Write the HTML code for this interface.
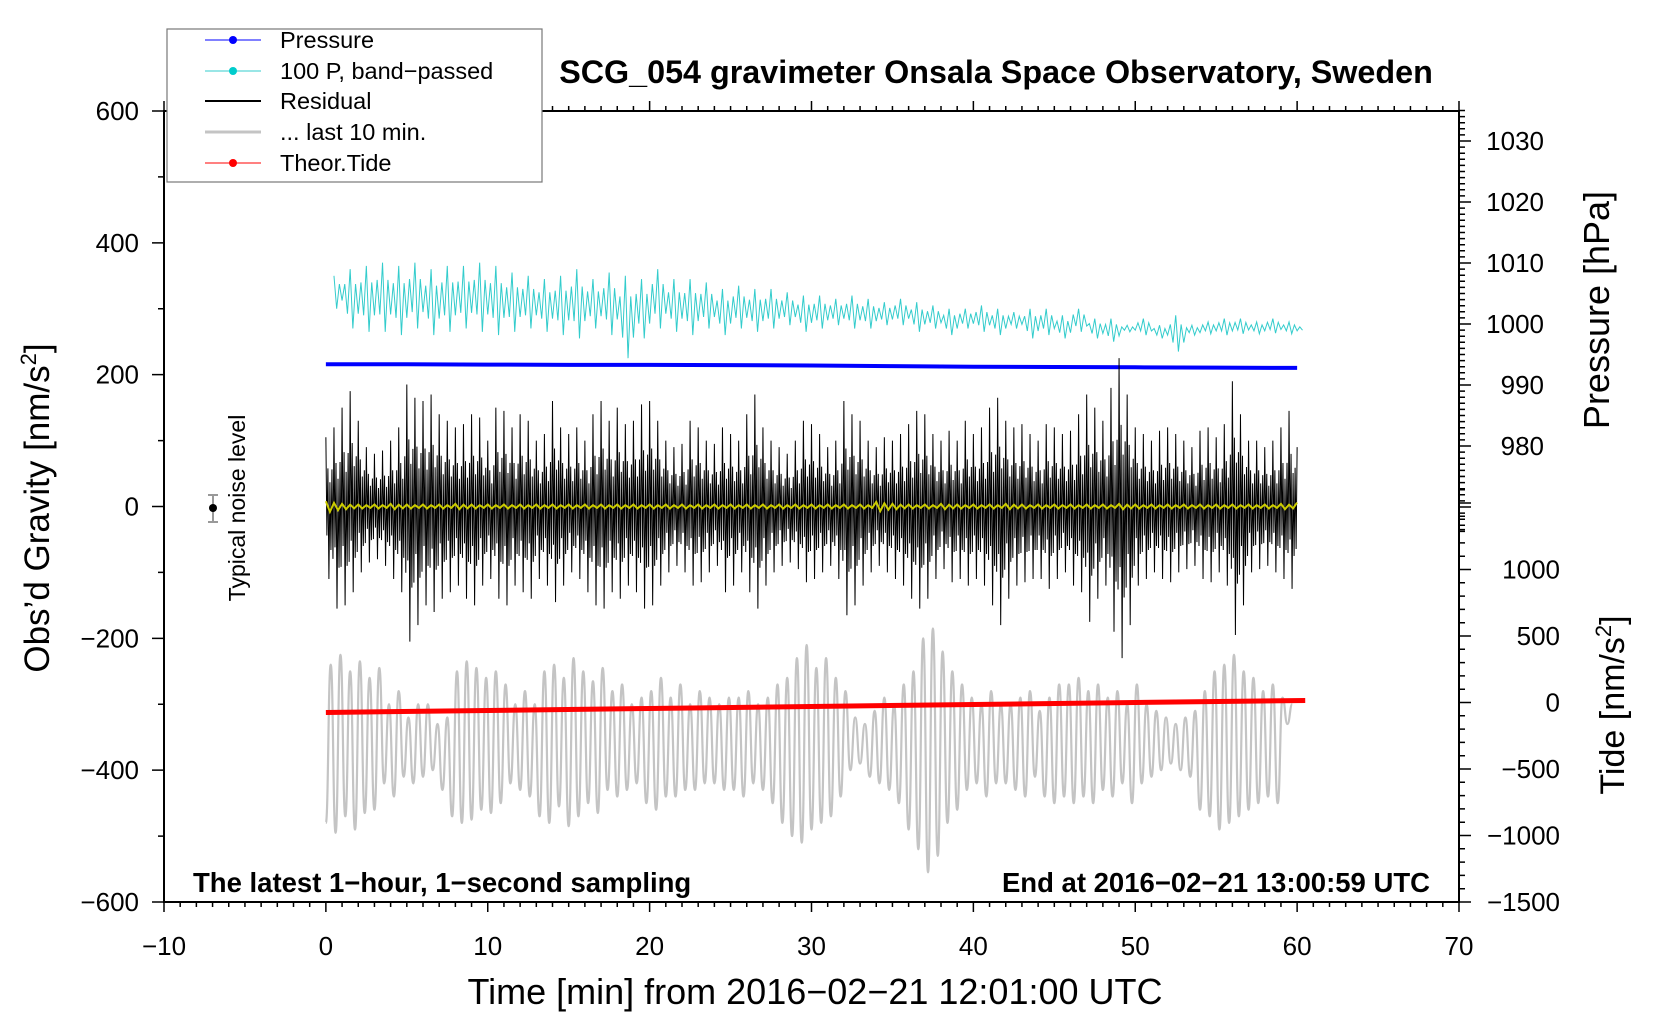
<!DOCTYPE html>
<html><head><meta charset="utf-8"><style>
html,body{margin:0;padding:0;background:#fff;}
svg{display:block;font-family:"Liberation Sans",Arial,sans-serif;}
</style></head><body>
<svg id="chart" width="1660" height="1020" viewBox="0 0 1660 1020" xmlns="http://www.w3.org/2000/svg">
<rect width="1660" height="1020" fill="#fff"/>
<g id="axes"></g>
<g id="series"></g>
<g id="labels"></g>
</svg>
<script>
// ---------- data ----------
const xTicks = [-10,0,10,20,30,40,50,60,70];
const gTicks = [-600,-400,-200,0,200,400,600];
const pTicks = [980,990,1000,1010,1020,1030];
const tideTicks = [-1500,-1000,-500,0,500,1000];

const pressureTimes = [0,5,10,15,20,25,30,35,40,45,50,55,60];
const pressureVals = [993.4,993.4,993.35,993.3,993.3,993.25,993.2,993.1,993.0,992.95,992.9,992.85,992.8];

const tideTimes = [0,10,20,30,40,50,60.5];
const tideVals = [-75,-60,-45,-30,-15,0,15];

const cyanMax = [350,360,365,370,365,370,360,365,365,370,365,355,350,345,350,360,345,355,350,345,360,345,345,340,330,335,330,330,325,320,320,315,320,315,310,315,310,305,300,300,305,300,295,300,300,290,300,285,285,275,285,275,290,275,280,285,285,280,285,280,275];
const cyanMin = [300,270,265,265,260,270,260,265,270,265,260,265,270,265,260,255,270,260,225,255,270,265,260,270,260,270,265,270,275,265,270,275,270,270,275,275,265,270,260,270,265,260,270,255,260,255,265,255,250,265,260,255,235,260,262,260,262,262,263,262,265];

const resMax = [105,120,150,175,130,90,80,85,100,120,
185,165,160,170,140,130,120,125,140,135,
100,150,145,120,140,130,100,110,160,120,
110,120,100,140,160,130,150,125,130,155,
160,130,100,90,95,130,120,100,95,120,
110,100,140,170,120,100,90,80,100,130,
125,110,90,100,160,140,130,100,90,105,
100,110,125,145,140,110,100,115,100,130,
110,120,150,165,130,120,125,110,100,125,
120,110,115,140,170,150,130,180,225,170,
120,110,100,115,120,110,100,90,115,120,
105,125,190,140,100,100,90,100,120,145,90];
const resMin = [-110,-155,-150,-130,-100,-85,-80,-90,-110,-130,
-205,-180,-150,-160,-140,-130,-120,-140,-150,-120,
-110,-140,-150,-120,-130,-140,-110,-120,-145,-120,
-100,-110,-130,-150,-155,-130,-140,-120,-130,-155,
-150,-120,-100,-90,-100,-120,-115,-100,-90,-130,
-120,-100,-130,-155,-120,-100,-90,-85,-95,-115,
-110,-100,-90,-110,-165,-150,-120,-100,-90,-100,
-110,-120,-140,-155,-140,-110,-95,-115,-110,-120,
-110,-120,-150,-180,-140,-120,-115,-110,-110,-125,
-110,-100,-120,-130,-175,-140,-120,-190,-230,-180,
-120,-110,-100,-110,-115,-100,-95,-90,-110,-115,
-100,-120,-195,-150,-100,-95,-90,-100,-110,-125,-90];

const yellowAmp = [8,4,3,3,4,3,3,3,4,3,3,3,3,3,3,3,3,3,3,3,3,3,3,3,3,3,3,3,3,3,3,3,3,3,7,4,3,3,4,3,3,3,4,3,3,3,3,3,3,4,3,3,3,3,3,3,3,3,3,4,6];

const greyHi = [-240,-225,-250,-235,-260,-245,-300,-280,-320,-300,
-300,-330,-320,-250,-235,-245,-260,-250,-270,-300,
-280,-300,-250,-240,-260,-230,-250,-265,-245,-280,
-270,-300,-290,-280,-260,-290,-270,-300,-280,-290,
-300,-290,-290,-280,-300,-290,-270,-260,-230,-210,
-245,-230,-260,-280,-320,-330,-310,-290,-300,-270,
-250,-200,-185,-220,-250,-270,-290,-300,-280,-300,
-300,-290,-280,-310,-290,-270,-270,-260,-280,-270,
-290,-280,-300,-270,-300,-310,-320,-330,-320,-310,
-280,-250,-240,-225,-250,-260,-280,-270,-290,-300];
const greyLo = [-480,-495,-470,-490,-465,-460,-420,-440,-410,-420,
-410,-400,-430,-470,-480,-475,-460,-465,-450,-420,
-430,-440,-470,-480,-455,-485,-470,-450,-465,-430,
-440,-430,-420,-450,-460,-440,-440,-430,-430,-420,
-420,-430,-430,-440,-420,-430,-450,-480,-500,-510,
-490,-480,-470,-440,-400,-390,-410,-420,-430,-450,
-490,-520,-555,-530,-480,-460,-430,-420,-440,-420,
-420,-430,-440,-410,-440,-450,-440,-450,-440,-450,
-430,-440,-420,-450,-420,-410,-400,-390,-400,-410,
-460,-470,-490,-480,-470,-460,-450,-440,-450,-330];

// ---------- scales ----------
const L=164, R=1459, T=111, B=902;
const xs = t => L + (t+10)/80*(R-L);
const yg = v => B - (v+600)/1200*(B-T);
const yp = p => 141 + (1030-p)*6.1;
const yt = v => 702.5 - v*0.133;
const NS="http://www.w3.org/2000/svg";
function mk(tag, attrs, parent){const e=document.createElementNS(NS,tag);for(const k in attrs)e.setAttribute(k,attrs[k]);parent.appendChild(e);return e;}
const axes=document.getElementById('axes'), ser=document.getElementById('series'), lab=document.getElementById('labels');

const frame = mk('rect',{x:L,y:T,width:R-L,height:B-T,fill:'none',stroke:'#000','stroke-width':2},axes);



let tp='';
for(let t=-10;t<=70;t++){const x=xs(t);const len=(t%10===0)?10:5;tp+=`M${x} ${B}v${len}M${x} ${T}v${-len}`;}
for(let v=-600;v<=600;v+=100){const y=yg(v);const len=(v%200===0)?12:6;tp+=`M${L} ${y}h${-len}`;}
for(let p=966;p<=1035;p++){const y=yp(p);const len=(p%10===0)?12:6;tp+=`M${R} ${y}h${len}`;}
for(let v=-1500;v<=1700;v+=100){const y=yt(v);const len=(v%500===0)?12:6;tp+=`M${R} ${y}h${len}`;}
const tk=mk('path',{d:tp,stroke:'#000','stroke-width':1.5,fill:'none'},axes);



function txt(s,attrs,name){const e=mk('text',attrs,lab);e.textContent=s;return e;}
xTicks.forEach(t=>{txt(String(t).replace('-','\u2212'),{x:xs(t),y:955,'font-size':26,'text-anchor':'middle'},'x-tick-label');});
gTicks.forEach(v=>{txt(String(v).replace('-','\u2212'),{x:139,y:yg(v)+9,'font-size':26,'text-anchor':'end'},'y-tick-label');});
pTicks.forEach(p=>{txt(String(p),{x:1544,y:yp(p)+9,'font-size':26,'text-anchor':'end'},'pressure-tick-label');});
tideTicks.forEach(v=>{txt(String(v).replace('-','\u2212'),{x:1560,y:yt(v)+9,'font-size':26,'text-anchor':'end'},'tide-tick-label');});

// grey last 10 min
let gp='M'+xs(0)+' '+yg(greyLo[0]);
const n=greyHi.length, cw=60/n;
for(let i=0;i<n;i++){
  const x0=xs(i*cw), xm=xs(i*cw+cw/2), x1=xs((i+1)*cw), h=(xm-x0)/2;
  const lo0=yg(greyLo[i]), hi=yg(greyHi[i]), lo1=yg(i+1<n?greyLo[i+1]:greyLo[i]);
  gp+=`C${x0+h} ${lo0} ${xm-h} ${hi} ${xm} ${hi}`;
  if(i<n-1) gp+=`C${xm+h} ${hi} ${x1-h} ${lo1} ${x1} ${lo1}`;
}
const grey=mk('path',{d:gp,stroke:'#c4c4c4','stroke-width':2.2,fill:'none'},ser);



// cyan
let cp='';
for(let i=0;i<cyanMax.length-1;i++){
  const a=cyanMax[i], b=cyanMin[i], c=cyanMax[i+1], d=cyanMin[i+1];
  const mid=(a+b)/2, m2=(c+d)/2;
  const pts=[[0,a],[1/6,b],[2/6,(a+mid)/2],[3/6,(b+mid)/2],[4/6,(c+m2)/2],[5/6,(d+m2)/2]];
  pts.forEach((p,k)=>{cp+=(i===0&&k===0?'M':'L')+xs(i+p[0]+0.5)+' '+yg(p[1]);});
}
const cyan=mk('path',{d:cp,stroke:'#33cccc','stroke-width':1,fill:'none'},ser);



// blue pressure
const bp=pressureTimes.map((t,i)=>(i?'L':'M')+xs(t)+' '+yp(pressureVals[i])).join('');
const blue=mk('path',{d:bp,stroke:'#0000ff','stroke-width':4,fill:'none'},ser);



// residual
let rp='';
for(let i=0;i<resMax.length-1;i++){
  const t=i*0.5;
  const pts=[[0,resMax[i]],[0.0625,resMin[i]*0.4],[0.125,resMax[i]*0.55],[0.1875,resMin[i]],[0.25,resMax[i]*0.35],[0.3125,resMin[i]*0.6],[0.375,(resMax[i]+resMax[i+1])*0.25],[0.4375,(resMin[i]+resMin[i+1])*0.3]];
  pts.forEach((p,k)=>{rp+=(i===0&&k===0?'M':'L')+xs(t+p[0])+' '+yg(p[1]);});
}
rp+='L'+xs(60)+' '+yg(resMax[resMax.length-1]);
const res=mk('path',{d:rp,stroke:'#000','stroke-width':1,fill:'none'},ser);



// yellow
let yp2='';
for(let i=0;i<yellowAmp.length;i++){
  const a=yellowAmp[i];
  const pts=[[0,a],[0.25,-a],[0.5,a*0.7],[0.75,-a*0.7]];
  pts.forEach((p,k)=>{if(i===yellowAmp.length-1&&k>0)return;yp2+=(i===0&&k===0?'M':'L')+xs(i+p[0])+' '+yg(p[1]);});
}
const yel=mk('path',{d:yp2,stroke:'#cccc00','stroke-width':2,fill:'none'},ser);



// red tide
const tpth=tideTimes.map((t,i)=>(i?'L':'M')+xs(t)+' '+yt(tideVals[i])).join('');
const red=mk('path',{d:tpth,stroke:'#ff0000','stroke-width':5,fill:'none'},ser);


</script>
<svg style="position:absolute;left:0;top:0" width="1660" height="1020" viewBox="0 0 1660 1020" xmlns="http://www.w3.org/2000/svg" font-family="Liberation Sans, Arial, sans-serif">
  <text x="996" y="83" font-size="32.3" font-weight="bold" text-anchor="middle">SCG_054 gravimeter Onsala Space Observatory, Sweden</text>
  <g>
    <path d="M213 495V522M208 495h10M208 522h10" stroke="#999" stroke-width="2" fill="none"/>
    <circle cx="213" cy="508" r="4" fill="#000"/>
  </g>
  <text transform="translate(245,508) rotate(-90)" font-size="23" text-anchor="middle">Typical noise level</text>
  <text x="193" y="892" font-size="27.5" font-weight="bold">The latest 1−hour, 1−second sampling</text>
  <text x="1430" y="892" font-size="27.5" font-weight="bold" text-anchor="end">End at 2016−02−21 13:00:59 UTC</text>
  <text x="815" y="1004" font-size="36" text-anchor="middle">Time [min] from 2016−02−21 12:01:00 UTC</text>
  <text transform="translate(49,508) rotate(-90)" font-size="35" text-anchor="middle">Obs’d Gravity [nm/s<tspan dy="-13" font-size="22">2</tspan><tspan dy="13">]</tspan></text>
  <text transform="translate(1609,310) rotate(-90)" font-size="36" text-anchor="middle">Pressure [hPa]</text>
  <text transform="translate(1624,705) rotate(-90)" font-size="34" text-anchor="middle">Tide [nm/s<tspan dy="-13" font-size="22">2</tspan><tspan dy="13">]</tspan></text>
  <g>
    <rect x="167" y="29" width="375" height="153" fill="#fff" stroke="#777" stroke-width="1.2"/>
    <g>
      <line x1="205" y1="40" x2="261" y2="40" stroke="#0000ff" stroke-width="1"/><circle cx="233" cy="40" r="4" fill="#0000ff"/>
      <text x="280" y="48" font-size="23.5">Pressure</text></g>
    <g>
      <line x1="205" y1="71" x2="261" y2="71" stroke="#33cccc" stroke-width="1"/><circle cx="233" cy="71" r="4" fill="#00cccc"/>
      <text x="280" y="79" font-size="23.5">100 P, band−passed</text></g>
    <g>
      <line x1="205" y1="101" x2="261" y2="101" stroke="#000" stroke-width="2"/>
      <text x="280" y="109" font-size="23.5">Residual</text></g>
    <g>
      <line x1="205" y1="132" x2="261" y2="132" stroke="#c4c4c4" stroke-width="3"/>
      <text x="280" y="140" font-size="23.5">... last 10 min.</text></g>
    <g>
      <line x1="205" y1="163" x2="261" y2="163" stroke="#ff0000" stroke-width="1"/><circle cx="233" cy="163" r="4" fill="#ff0000"/>
      <text x="280" y="171" font-size="23.5">Theor.Tide</text></g>
  </g>
</svg>
</body></html>
